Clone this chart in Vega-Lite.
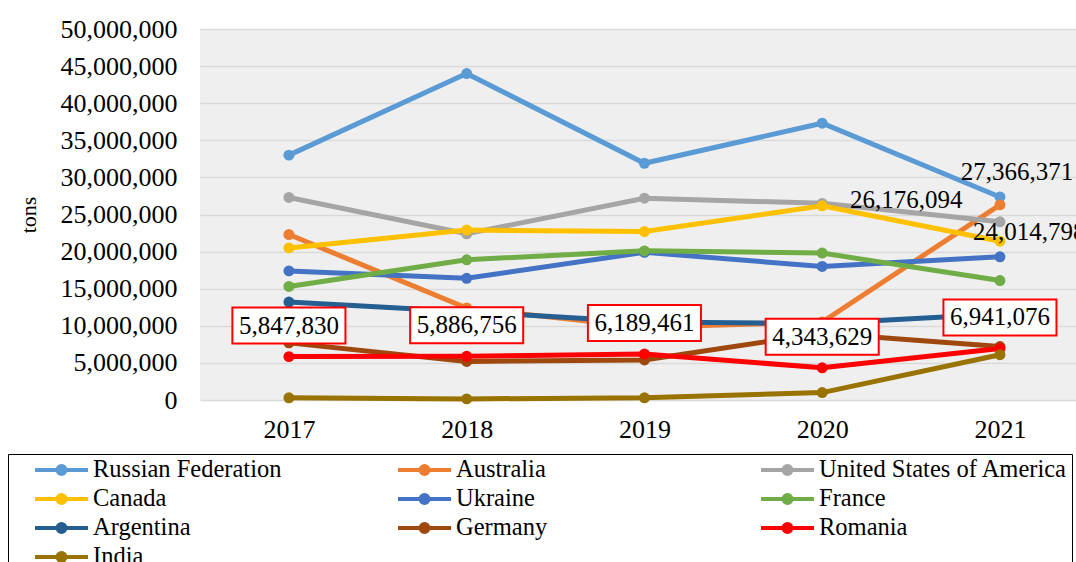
{
  "$schema": "https://vega.github.io/schema/vega-lite/v6.json",
  "width": 876,
  "height": 371,
  "autosize": {"type": "none"},
  "padding": {"left": 200, "top": 29, "right": 0, "bottom": 162},
  "background": "white",
  "config": {
    "font": "Liberation Serif",
    "view": {"fill": "#EFEFEF", "stroke": null},
    "legend": {
      "orient": "none",
      "direction": "horizontal",
      "legendX": -192,
      "legendY": 425,
      "columns": 3,
      "gridAlign": "all",
      "columnPadding": 33,
      "rowPadding": 4,
      "clipHeight": 24,
      "symbolType": "M-1,0H1M-0.15,0A0.15,0.15,0,1,0,0.15,0A0.15,0.15,0,1,0,-0.15,0",
      "symbolSize": 2809,
      "symbolStrokeWidth": 4,
      "symbolOffset": 21,
      "labelOffset": 3,
      "labelFontSize": 24.5,
      "labelFont": "Liberation Serif",
      "labelColor": "black",
      "labelLimit": 400,
      "strokeColor": "black",
      "padding": 4
    }
  },
  "data": {
    "values": [
      {"country": "Russian Federation", "year": "2017", "value": 33000000},
      {"country": "Russian Federation", "year": "2018", "value": 44000000},
      {"country": "Russian Federation", "year": "2019", "value": 31900000},
      {"country": "Russian Federation", "year": "2020", "value": 37300000},
      {"country": "Russian Federation", "year": "2021", "value": 27366371},
      {"country": "Australia", "year": "2017", "value": 22300000},
      {"country": "Australia", "year": "2018", "value": 12400000},
      {"country": "Australia", "year": "2019", "value": 9800000},
      {"country": "Australia", "year": "2020", "value": 10500000},
      {"country": "Australia", "year": "2021", "value": 26300000},
      {"country": "United States of America", "year": "2017", "value": 27300000},
      {"country": "United States of America", "year": "2018", "value": 22400000},
      {"country": "United States of America", "year": "2019", "value": 27200000},
      {"country": "United States of America", "year": "2020", "value": 26500000},
      {"country": "United States of America", "year": "2021", "value": 24014798},
      {"country": "Canada", "year": "2017", "value": 20500000},
      {"country": "Canada", "year": "2018", "value": 22900000},
      {"country": "Canada", "year": "2019", "value": 22700000},
      {"country": "Canada", "year": "2020", "value": 26176094},
      {"country": "Canada", "year": "2021", "value": 21400000},
      {"country": "Ukraine", "year": "2017", "value": 17400000},
      {"country": "Ukraine", "year": "2018", "value": 16400000},
      {"country": "Ukraine", "year": "2019", "value": 19900000},
      {"country": "Ukraine", "year": "2020", "value": 18000000},
      {"country": "Ukraine", "year": "2021", "value": 19300000},
      {"country": "France", "year": "2017", "value": 15300000},
      {"country": "France", "year": "2018", "value": 18900000},
      {"country": "France", "year": "2019", "value": 20100000},
      {"country": "France", "year": "2020", "value": 19800000},
      {"country": "France", "year": "2021", "value": 16100000},
      {"country": "Argentina", "year": "2017", "value": 13200000},
      {"country": "Argentina", "year": "2018", "value": 11900000},
      {"country": "Argentina", "year": "2019", "value": 10500000},
      {"country": "Argentina", "year": "2020", "value": 10300000},
      {"country": "Argentina", "year": "2021", "value": 11600000},
      {"country": "Germany", "year": "2017", "value": 7700000},
      {"country": "Germany", "year": "2018", "value": 5200000},
      {"country": "Germany", "year": "2019", "value": 5400000},
      {"country": "Germany", "year": "2020", "value": 9000000},
      {"country": "Germany", "year": "2021", "value": 7200000},
      {"country": "Romania", "year": "2017", "value": 5847830},
      {"country": "Romania", "year": "2018", "value": 5886756},
      {"country": "Romania", "year": "2019", "value": 6189461},
      {"country": "Romania", "year": "2020", "value": 4343629},
      {"country": "Romania", "year": "2021", "value": 6941076},
      {"country": "India", "year": "2017", "value": 300000},
      {"country": "India", "year": "2018", "value": 150000},
      {"country": "India", "year": "2019", "value": 300000},
      {"country": "India", "year": "2020", "value": 1000000},
      {"country": "India", "year": "2021", "value": 6100000}
    ]
  },
  "encoding": {
    "x": {
      "field": "year",
      "type": "ordinal",
      "scale": {"type": "point", "padding": 0.464, "align": 0.539},
      "axis": {
        "title": null,
        "labelAngle": 0,
        "labelFontSize": 26,
        "labelColor": "black",
        "labelPadding": 16,
        "ticks": false,
        "domain": false,
        "grid": false
      }
    },
    "y": {
      "field": "value",
      "type": "quantitative",
      "scale": {"domain": [0, 50000000], "nice": false},
      "axis": {
        "title": "tons",
        "titleFontSize": 22,
        "titleFontWeight": "normal",
        "titleColor": "black",
        "titlePadding": 20,
        "values": [0, 5000000, 10000000, 15000000, 20000000, 25000000, 30000000, 35000000, 40000000, 45000000, 50000000],
        "format": ",d",
        "labelFontSize": 26,
        "labelColor": "black",
        "labelPadding": 23,
        "ticks": false,
        "domain": false,
        "grid": true,
        "gridColor": "#D9D9D9",
        "gridWidth": 1.5
      }
    }
  },
  "layer": [
    {
      "mark": {"type": "line", "strokeWidth": 5},
      "encoding": {
        "color": {
          "field": "country",
          "type": "nominal",
          "title": null,
          "scale": {
            "domain": ["Russian Federation", "Australia", "United States of America", "Canada", "Ukraine", "France", "Argentina", "Germany", "Romania", "India"],
            "range": ["#5B9BD5", "#ED7D31", "#A5A5A5", "#FFC000", "#4472C4", "#70AD47", "#255E91", "#9E480E", "#FF0000", "#997300"]
          }
        }
      }
    },
    {
      "mark": {"type": "point", "filled": true, "size": 120, "opacity": 1},
      "encoding": {
        "color": {"field": "country", "type": "nominal", "title": null}
      }
    },
    {
      "transform": [{"filter": "datum.country === 'Romania'"}],
      "mark": {
        "type": "point",
        "shape": "M-1.57,-0.5H1.57V0.5H-1.57Z",
        "size": 5184,
        "filled": true,
        "fill": "white",
        "stroke": "#FF0000",
        "strokeWidth": 2,
        "opacity": 1,
        "yOffset": -31
      }
    },
    {
      "transform": [{"filter": "datum.country === 'Romania'"}],
      "mark": {"type": "text", "fontSize": 25, "fill": "black", "baseline": "middle", "align": "center", "yOffset": -31},
      "encoding": {"text": {"field": "value", "type": "quantitative", "format": ",d"}}
    },
    {
      "transform": [{"filter": "datum.country === 'Russian Federation' && datum.year === '2021'"}],
      "mark": {"type": "text", "fontSize": 25, "fill": "black", "baseline": "middle", "align": "center", "dx": 17, "dy": -25},
      "encoding": {"text": {"field": "value", "type": "quantitative", "format": ",d"}}
    },
    {
      "transform": [{"filter": "datum.country === 'Canada' && datum.year === '2020'"}],
      "mark": {"type": "text", "fontSize": 25, "fill": "black", "baseline": "middle", "align": "center", "dx": 84, "dy": -6},
      "encoding": {"text": {"field": "value", "type": "quantitative", "format": ",d"}}
    },
    {
      "transform": [{"filter": "datum.country === 'United States of America' && datum.year === '2021'"}],
      "mark": {"type": "text", "fontSize": 25, "fill": "black", "baseline": "middle", "align": "left", "dx": -27, "dy": 10},
      "encoding": {"text": {"field": "value", "type": "quantitative", "format": ",d"}}
    }
  ]
}
